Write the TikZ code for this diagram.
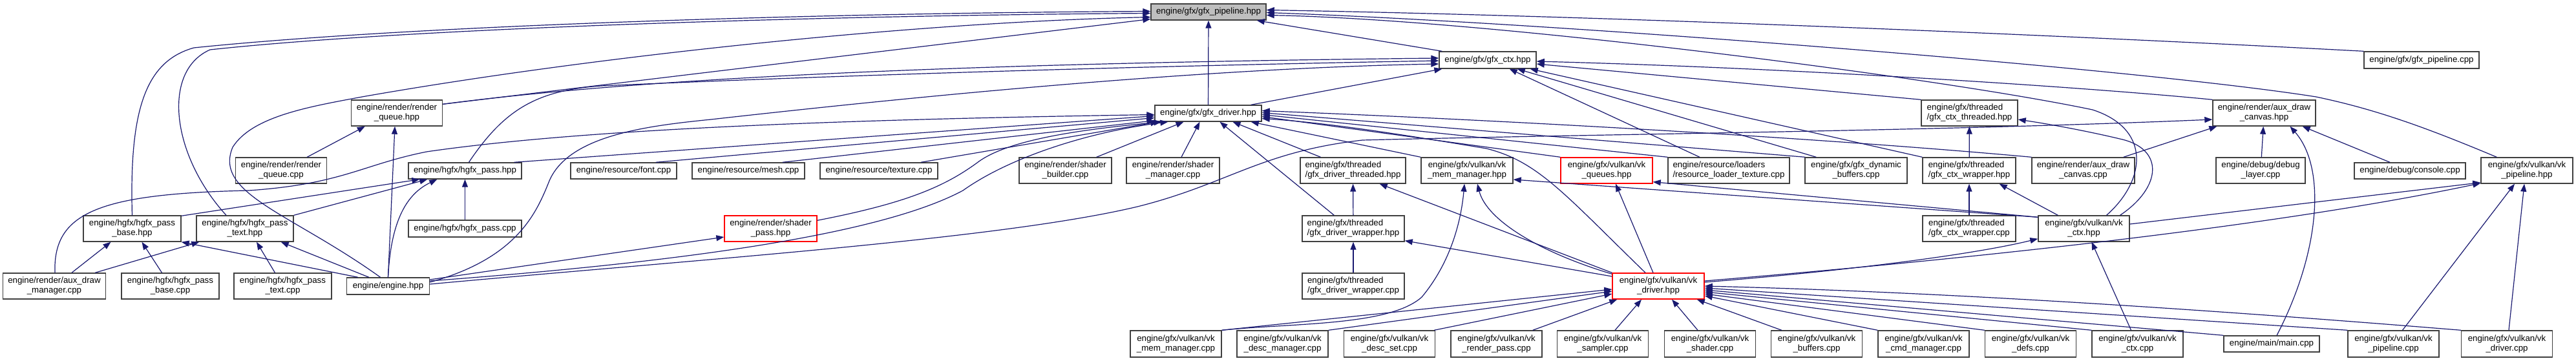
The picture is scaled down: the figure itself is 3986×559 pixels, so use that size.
\documentclass[tikz,border=0pt]{standalone}
\usepackage{fontspec}
\setmainfont{Liberation Sans}
\usetikzlibrary{arrows.meta,calc}
\definecolor{edgec}{HTML}{191970}
\definecolor{boxc}{HTML}{404040}
\definecolor{rootc}{HTML}{BFBFBF}
\begin{document}
\begin{tikzpicture}[x=1pt,y=-1pt,
  box/.style={draw=boxc,line width=1.4pt,fill=white,inner sep=0pt,align=center,font=\fontsize{13.3}{15}\selectfont},
  lbox/.style={box,align=left},
  rbox/.style={box,draw=red},
  lnk/.style={draw=edgec,line width=1.2pt,-{Triangle[length=12pt,width=9pt]}}]
\fill[white] (0,0) rectangle (3986,559);
\useasboundingbox (0,0) rectangle (3986,559);
% row 0-2
\node[box,fill=rootc,minimum width=178pt,minimum height=25pt] (P) at (1870,18.5) {engine/gfx/gfx\_pipeline.hpp};
\node[box,minimum width=150pt,minimum height=26pt] (C) at (2302,93) {engine/gfx/gfx\_ctx.hpp};
\node[box,minimum width=178pt,minimum height=26pt] (PC) at (3747,93) {engine/gfx/gfx\_pipeline.cpp};
\node[box,minimum width=141pt,minimum height=40pt] (RQH) at (614,175) {engine/render/render\\\_queue.hpp};
\node[box,minimum width=165pt,minimum height=25pt] (D) at (1869.5,175.5) {engine/gfx/gfx\_driver.hpp};
\node[lbox,minimum width=149pt,minimum height=40pt] (CT) at (3047.5,175) {engine/gfx/threaded\\/gfx\_ctx\_threaded.hpp};
\node[box,minimum width=159pt,minimum height=40pt] (ADC) at (3503.5,175) {engine/render/aux\_draw\\\_canvas.hpp};
% row 3
\node[box,minimum width=141pt,minimum height=40pt] (RQC) at (435,264) {engine/render/render\\\_queue.cpp};
\node[box,minimum width=175pt,minimum height=25pt] (HP) at (719.5,264.5) {engine/hgfx/hgfx\_pass.hpp};
\node[box,minimum width=164pt,minimum height=25pt] (FONT) at (965,264.5) {engine/resource/font.cpp};
\node[box,minimum width=174pt,minimum height=25pt] (MESH) at (1158,264.5) {engine/resource/mesh.cpp};
\node[box,minimum width=182pt,minimum height=25pt] (TEX) at (1360,264.5) {engine/resource/texture.cpp};
\node[box,minimum width=143pt,minimum height=40pt] (SB) at (1648.5,264) {engine/render/shader\\\_builder.cpp};
\node[box,minimum width=144pt,minimum height=40pt] (SM) at (1815,264) {engine/render/shader\\\_manager.cpp};
\node[lbox,minimum width=163pt,minimum height=40pt] (DT) at (2093.5,264) {engine/gfx/threaded\\/gfx\_driver\_threaded.hpp};
\node[box,minimum width=142pt,minimum height=40pt] (MMH) at (2270,264) {engine/gfx/vulkan/vk\\\_mem\_manager.hpp};
\node[rbox,minimum width=142pt,minimum height=40pt] (Q) at (2486,264) {engine/gfx/vulkan/vk\\\_queues.hpp};
\node[lbox,minimum width=188pt,minimum height=40pt] (RLT) at (2675,264) {engine/resource/loaders\\/resource\_loader\_texture.cpp};
\node[box,minimum width=158pt,minimum height=40pt] (DYN) at (2872,264) {engine/gfx/gfx\_dynamic\\\_buffers.cpp};
\node[lbox,minimum width=144pt,minimum height=40pt] (CW) at (3047,264) {engine/gfx/threaded\\/gfx\_ctx\_wrapper.hpp};
\node[box,minimum width=159pt,minimum height=40pt] (ADCC) at (3223.5,264) {engine/render/aux\_draw\\\_canvas.cpp};
\node[box,minimum width=138pt,minimum height=40pt] (DBG) at (3498,264) {engine/debug/debug\\\_layer.cpp};
\node[box,minimum width=172pt,minimum height=25pt] (CON) at (3729,264.5) {engine/debug/console.cpp};
\node[box,minimum width=142pt,minimum height=40pt] (VP) at (3910,264) {engine/gfx/vulkan/vk\\\_pipeline.hpp};
% row 4
\node[box,minimum width=151pt,minimum height=40pt] (HPB) at (204.5,354) {engine/hgfx/hgfx\_pass\\\_base.hpp};
\node[box,minimum width=150pt,minimum height=40pt] (HPT) at (379,354) {engine/hgfx/hgfx\_pass\\\_text.hpp};
\node[box,minimum width=175pt,minimum height=26pt] (HPC) at (719.5,354) {engine/hgfx/hgfx\_pass.cpp};
\node[rbox,minimum width=143pt,minimum height=40pt] (SP) at (1192.5,354) {engine/render/shader\\\_pass.hpp};
\node[lbox,minimum width=158pt,minimum height=40pt] (DW) at (2094,354) {engine/gfx/threaded\\/gfx\_driver\_wrapper.hpp};
\node[lbox,minimum width=144pt,minimum height=40pt] (CWC) at (3047,354) {engine/gfx/threaded\\/gfx\_ctx\_wrapper.cpp};
\node[box,minimum width=141pt,minimum height=40pt] (VC) at (3224.5,354) {engine/gfx/vulkan/vk\\\_ctx.hpp};
% row 5
\node[box,minimum width=159pt,minimum height=40pt] (ADM) at (84,443) {engine/render/aux\_draw\\\_manager.cpp};
\node[box,minimum width=151pt,minimum height=40pt] (HPBC) at (263.5,443) {engine/hgfx/hgfx\_pass\\\_base.cpp};
\node[box,minimum width=151pt,minimum height=40pt] (HPTC) at (437.5,443) {engine/hgfx/hgfx\_pass\\\_text.cpp};
\node[box,minimum width=128pt,minimum height=26pt] (E) at (600.5,443) {engine/engine.hpp};
\node[lbox,minimum width=158pt,minimum height=40pt] (DWC) at (2094,443) {engine/gfx/threaded\\/gfx\_driver\_wrapper.cpp};
\node[rbox,minimum width=142pt,minimum height=40pt] (VD) at (2566,443) {engine/gfx/vulkan/vk\\\_driver.hpp};
% row 6
\node[box,minimum width=141pt,minimum height=41pt] (MMC) at (1819.5,532.5) {engine/gfx/vulkan/vk\\\_mem\_manager.cpp};
\node[box,minimum width=141pt,minimum height=41pt] (DMC) at (1984.5,532.5) {engine/gfx/vulkan/vk\\\_desc\_manager.cpp};
\node[box,minimum width=141pt,minimum height=41pt] (DSC) at (2150,532.5) {engine/gfx/vulkan/vk\\\_desc\_set.cpp};
\node[box,minimum width=141pt,minimum height=41pt] (RPC) at (2315.5,532.5) {engine/gfx/vulkan/vk\\\_render\_pass.cpp};
\node[box,minimum width=141pt,minimum height=41pt] (SAC) at (2480,532.5) {engine/gfx/vulkan/vk\\\_sampler.cpp};
\node[box,minimum width=141pt,minimum height=41pt] (SHC) at (2646,532.5) {engine/gfx/vulkan/vk\\\_shader.cpp};
\node[box,minimum width=141pt,minimum height=41pt] (BUC) at (2811,532.5) {engine/gfx/vulkan/vk\\\_buffers.cpp};
\node[box,minimum width=141pt,minimum height=41pt] (CMC) at (2976.5,532.5) {engine/gfx/vulkan/vk\\\_cmd\_manager.cpp};
\node[box,minimum width=141pt,minimum height=41pt] (DEC) at (3142,532.5) {engine/gfx/vulkan/vk\\\_defs.cpp};
\node[box,minimum width=141pt,minimum height=41pt] (VCC) at (3307.5,532.5) {engine/gfx/vulkan/vk\\\_ctx.cpp};
\node[box,minimum width=148pt,minimum height=25pt] (MAIN) at (3515,532.5) {engine/main/main.cpp};
\node[box,minimum width=141pt,minimum height=41pt] (VPC) at (3703.5,532.5) {engine/gfx/vulkan/vk\\\_pipeline.cpp};
\node[box,minimum width=141pt,minimum height=41pt] (VDC) at (3879,532.5) {engine/gfx/vulkan/vk\\\_driver.cpp};
% ---- edges to P
\draw[lnk] (D) -- (P);
\draw[lnk] (HPB.north) .. controls (200,170) and (225,95) .. (300,74) .. controls (650,38) and (1300,20) .. ($(P.west)+(0,-1)$);
\draw[lnk] ($(HPT.north)+(-29,0)$) .. controls (265,240) and (250,110) .. (325,77) .. controls (650,42) and (1300,24) .. ($(P.west)+(0,2)$);
\draw[lnk] ($(E.north)+(-12,0)$) .. controls (450,330) and (330,300) .. (360,228) .. controls (390,180) and (480,165) .. (560,150) .. controls (900,90) and (1400,35) .. ($(P.west)+(0,8)$);
\draw[lnk] ($(RQH.north east)+(0,7)$) -- ($(P.west)+(0,11)$);
\draw[lnk] ($(C.north west)+(5,0)$) -- ($(P.south east)+(-15,0)$);
\draw[lnk] (PC.north west) .. controls (3200,55) and (2500,25) .. ($(P.east)+(0,-3)$);
\draw[lnk] ($(VP.north west)+(25,0)$) .. controls (3760,200) and (3680,170) .. (3584,150) .. controls (3300,105) and (2400,35) .. ($(P.east)+(0,1)$);
\draw[lnk] ($(VC.north)+(35,0)$) .. controls (3320,280) and (3330,200) .. (3238,170) .. controls (3000,120) and (2300,30) .. ($(P.east)+(0,5)$);
\draw[lnk] ($(VC.north)+(56,0)$) .. controls (3345,290) and (3350,230) .. (3280,215) .. controls (3230,203) and (3170,192) .. ($(CT.east)+(0,10)$);
% ---- edges to C
\draw[lnk] ($(RQH.north east)+(0,7)$) .. controls (1000,120) and (1500,98) .. ($(C.west)+(0,-3)$);
\draw[lnk] ($(HP.north)+(6,0)$) .. controls (780,170) and (830,140) .. (930,133) .. controls (1400,112) and (1900,100) .. ($(C.west)+(0,1)$);
\draw[lnk] ($(E.east)+(0,-6)$) .. controls (800,400) and (830,330) .. (850,280) .. controls (880,210) and (1000,195) .. (1100,185) .. controls (1500,140) and (1900,105) .. ($(C.west)+(0,6)$);
\draw[lnk] ($(D.north east)+(-17,0)$) -- ($(C.south west)+(5,0)$);
\draw[lnk] (ADC.north west) .. controls (3250,137) and (2800,106) .. ($(C.east)+(0,2)$);
\draw[lnk] (CT.north west) -- ($(C.east)+(0,6)$);
\draw[lnk] ($(RLT.north)+(-45,0)$) -- ($(C.south east)+(-42,0)$);
\draw[lnk] ($(DYN.north west)+(18,0)$) -- ($(C.south east)+(-30,0)$);
\draw[lnk] (CW.north west) -- ($(C.south east)+(-10,0)$);
% ---- RQH
\draw[lnk] ($(RQC.north east)+(-31,0)$) -- ($(RQH.south west)+(22,0)$);
\draw[lnk] (E.north) -- ($(RQH.south)+(-3,0)$);
% ---- D
\draw[lnk] ($(ADM.north)+(1,0)$) .. controls (82,330) and (150,300) .. (385,295) .. controls (530,285) and (560,255) .. (660,235) .. controls (900,200) and (1300,185) .. ($(D.west)+(0,2)$);
\draw[lnk] ($(HP.north east)+(-12,0)$) -- ($(D.west)+(0,4)$);
\draw[lnk] ($(FONT.north)+(50,0)$) -- ($(D.west)+(0,7)$);
\draw[lnk] ($(MESH.north)+(53,0)$) -- ($(D.south west)+(0,-2)$);
\draw[lnk] ($(TEX.north)+(65,0)$) -- ($(D.south west)+(6,0)$);
\draw[lnk] ($(SP.north east)+(0,8)$) .. controls (1400,315) and (1460,290) .. (1512,252) .. controls (1560,215) and (1680,200) .. ($(D.south west)+(11,0)$);
\draw[lnk] ($(E.east)+(0,-8)$) .. controls (1000,410) and (1350,370) .. (1490,295) .. controls (1560,245) and (1680,205) .. ($(D.south west)+(21,0)$);
\draw[lnk] ($(SB.north east)+(-24,0)$) -- ($(D.south)+(-38,0)$);
\draw[lnk] ($(SM.north)+(13,0)$) -- ($(D.south)+(-13,0)$);
\draw[lnk] ($(DW.north west)+(50,0)$) -- ($(D.south)+(18,0)$);
\draw[lnk] ($(DT.north)+(-50,0)$) -- ($(D.south)+(38,0)$);
\draw[lnk] (MMH.north west) -- ($(D.south east)+(-17,0)$);
\draw[lnk] (Q.north west) -- ($(D.east)+(0,5)$);
\draw[lnk] (RLT.north west) -- ($(D.east)+(0,2)$);
\draw[lnk] ($(VD.north)+(-20,0)$) .. controls (2420,300) and (2380,250) .. (2300,230) .. controls (2150,205) and (2050,190) .. ($(D.east)+(0,8)$);
\draw[lnk] ($(DYN.north west)+(1,0)$) -- ($(D.east)+(0,-1)$);
\draw[lnk] (ADCC.north west) .. controls (2800,212) and (2300,185) .. ($(D.east)+(0,-4)$);
% ---- E to ADC, SP
\draw[lnk] ($(E.east)+(0,-3)$) .. controls (1100,400) and (1550,370) .. (1760,320) .. controls (1900,285) and (1950,235) .. (2108,217) .. controls (2500,207) and (3000,203) .. ($(ADC.west)+(0,10)$);
\draw[lnk] ($(E.east)+(0,-10)$) -- ($(SP.west)+(0,13)$);
% ---- CT, CW
\draw[lnk] (CW) -- (CT);
\draw[lnk] (CWC) -- (CW);
\draw[lnk] ($(VC.north west)+(31,0)$) -- ($(CW.south east)+(-26,0)$);
% ---- VC
\draw[lnk] ($(VCC.north)+(-10,0)$) -- ($(VC.south)+(12,0)$);
\draw[lnk] ($(VD.east)+(0,-6)$) .. controls (2850,420) and (3050,395) .. ($(VC.south west)+(0,-5)$);
% ---- VP
\draw[lnk] ($(VC.east)+(0,-7)$) -- ($(VP.south west)+(0,-2)$);
\draw[lnk] ($(VD.east)+(0,-8)$) .. controls (3000,405) and (3500,355) .. ($(VP.south west)+(0,-1)$);
\draw[lnk] ($(VPC.north)+(14,0)$) -- ($(VP.south)+(-19,0)$);
\draw[lnk] ($(VDC.north)+(3,0)$) -- ($(VP.south)+(-4,0)$);
% ---- ADC
\draw[lnk] ($(ADCC.north east)+(-18,0)$) -- ($(ADC.south west)+(7,0)$);
\draw[lnk] (DBG) -- (ADC);
\draw[lnk] ($(MAIN.north)+(8,0)$) .. controls (3590,390) and (3600,260) .. ($(ADC.south)+(40,0)$);
\draw[lnk] ($(CON.north)+(-31,0)$) -- ($(ADC.south east)+(-21,0)$);
% ---- HP
\draw[lnk] ($(HPB.north east)+(0,1)$) -- ($(HP.south west)+(18,0)$);
\draw[lnk] (HPT.north east) -- ($(HP.south west)+(30,0)$);
\draw[lnk] (E.north) .. controls (605,340) and (630,300) .. ($(HP.south west)+(45,0)$);
\draw[lnk] (HPC) -- (HP);
% ---- HPB, HPT
\draw[lnk] ($(ADM.north)+(27,0)$) -- ($(HPB.south)+(-33,0)$);
\draw[lnk] ($(ADM.north east)+(-17,0)$) -- ($(HPT.south west)+(5,0)$);
\draw[lnk] ($(HPBC.north)+(-13,0)$) -- ($(HPB.south)+(15,0)$);
\draw[lnk] ($(HPTC.north)+(-12,0)$) -- ($(HPT.south)+(18,0)$);
\draw[lnk] ($(E.north west)+(18,0)$) -- (HPB.south east);
\draw[lnk] ($(E.north west)+(35,0)$) -- ($(HPT.south east)+(-20,0)$);
% ---- DT, DW
\draw[lnk] (DW) -- (DT);
\draw[lnk] (VD.north west) -- ($(DT.south east)+(-41,0)$);
\draw[lnk] (DWC) -- (DW);
\draw[lnk] ($(VD.west)+(0,-15)$) -- ($(DW.south east)+(0,-2)$);
% ---- MMH
\draw[lnk] (MMC.north east) .. controls (2000,500) and (2150,505) .. (2200,460) .. controls (2250,400) and (2262,330) .. ($(MMH.south)+(-4,0)$);
\draw[lnk] ($(VD.north west)+(0,2)$) .. controls (2380,390) and (2300,340) .. ($(MMH.south)+(16,0)$);
\draw[lnk] ($(VC.north west)+(0,3)$) -- ($(MMH.east)+(0,14)$);
% ---- Q
\draw[lnk] ($(VD.north)+(-8,0)$) -- ($(Q.south)+(14,0)$);
\draw[lnk] ($(VC.north west)+(0,3)$) -- ($(Q.south east)+(0,-3)$);
% ---- VD
\draw[lnk] (MMC.north east) -- ($(VD.west)+(0,5)$);
\draw[lnk] (DMC.north east) -- ($(VD.west)+(0,8)$);
\draw[lnk] ($(DSC.north east)+(-2,0)$) -- ($(VD.west)+(0,12)$);
\draw[lnk] ($(RPC.north east)+(-15,0)$) -- ($(VD.south west)+(8,0)$);
\draw[lnk] ($(SAC.north)+(19,0)$) -- ($(VD.south)+(-26,0)$);
\draw[lnk] ($(SHC.north)+(-19,0)$) -- ($(VD.south)+(21,0)$);
\draw[lnk] ($(BUC.north west)+(17,0)$) -- ($(VD.south east)+(-12,0)$);
\draw[lnk] (CMC.north west) -- ($(VD.east)+(0,15)$);
\draw[lnk] (DEC.north west) -- ($(VD.east)+(0,12)$);
\draw[lnk] (VCC.north west) -- ($(VD.east)+(0,9)$);
\draw[lnk] (MAIN.north west) -- ($(VD.east)+(0,6)$);
\draw[lnk] (VPC.north west) -- ($(VD.east)+(0,3)$);
\draw[lnk] (VDC.north west) .. controls (3400,478) and (3000,452) .. (VD.east);
\end{tikzpicture}
\end{document}
